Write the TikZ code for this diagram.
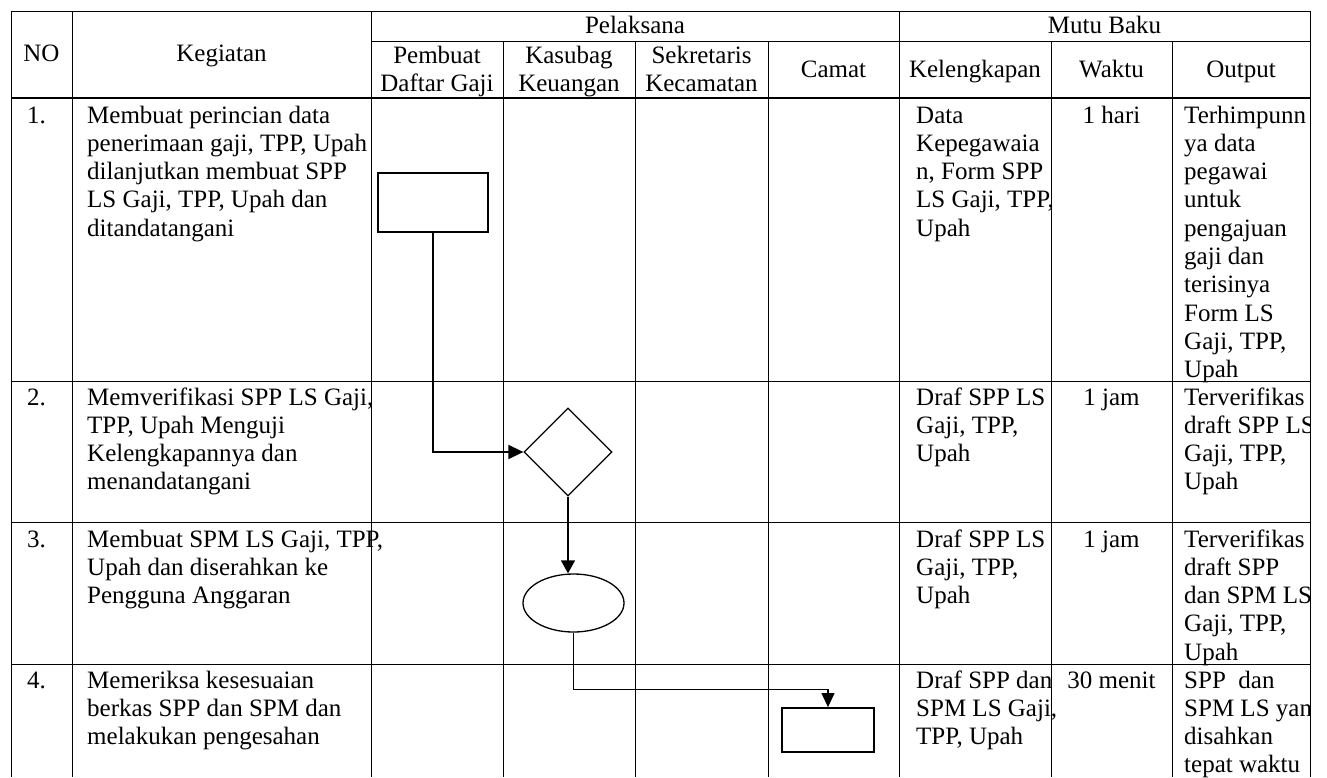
\documentclass[tikz,border=0pt]{standalone}
\usepackage{fontspec}
\setmainfont{Liberation Serif}
\usetikzlibrary{arrows.meta,shapes.geometric}
\newcommand{\kiri}[1]{\begin{tabular}[t]{@{}l@{}}#1\end{tabular}}
\newcommand{\tengah}[1]{\begin{tabular}[t]{@{}c@{}}#1\end{tabular}}

\begin{document}
\begin{tikzpicture}[x=1pt,y=-1pt,font=\fontsize{25}{28.3}\selectfont,
  >={Triangle[length=15pt,width=14pt]},
  grid/.style={line width=1pt},
  hd/.style={anchor=base,inner sep=0},
  txt/.style={anchor=base west,inner sep=0},
  wk/.style={anchor=base,inner sep=0},
  box/.style={draw,line width=1.8pt,inner sep=0},
  flow/.style={line width=1.5pt}]
  \useasboundingbox (0,0) rectangle (1327,777);
  % garis tabel
  \draw[grid] (11,777) -- (11,11) -- (1310,11) -- (1310,777);
  \draw[grid] (371,41) -- (1310,41);
  \draw[line width=1.8pt] (11,98) -- (1310,98);
  \foreach \y in {381,522,664} \draw[grid] (11,\y) -- (1310,\y);
  \foreach \x in {72,371,899} \draw[grid] (\x,11) -- (\x,777);
  \foreach \x in {503,635,768,1051,1172} \draw[grid] (\x,41) -- (\x,777);
  % kepala tabel
  \node[hd] (hno) at (41.5,61) {NO};
  \node[hd] (hkeg) at (221.5,61) {Kegiatan};
  \node[hd] (hpel) at (635,33) {Pelaksana};
  \node[hd] (hmutu) at (1104.5,33) {Mutu Baku};
  \node[hd] (hbuat) at (437,63) {\tengah{Pembuat\\Daftar Gaji}};
  \node[hd] (hkas) at (569,63) {\tengah{Kasubag\\Keuangan}};
  \node[hd] (hsek) at (701.5,63) {\tengah{Sekretaris\\Kecamatan}};
  \node[hd] (hcam) at (833.5,77) {Camat};
  \node[hd] (hkel) at (975,77) {Kelengkapan};
  \node[hd] (hwak) at (1111.5,77) {Waktu};
  \node[hd] (hout) at (1241,77) {Output};
  % baris 1
  \node[txt] (no1) at (27,123) {1.};
  \node[txt] (keg1) at (87,123) {\kiri{Membuat perincian data\\penerimaan gaji, TPP, Upah\\dilanjutkan membuat SPP\\LS Gaji, TPP, Upah dan\\ditandatangani}};
  \node[txt] (kel1) at (916,123) {\kiri{Data\\Kepegawaia\\n, Form SPP\\LS Gaji, TPP,\\Upah}};
  \node[wk] (wak1) at (1111.5,123) {1 hari};
  % baris 2
  \node[txt] (no2) at (27,405) {2.};
  \node[txt] (keg2) at (87,405) {\kiri{Memverifikasi SPP LS Gaji,\\TPP, Upah Menguji\\Kelengkapannya dan\\menandatangani}};
  \node[txt] (kel2) at (916,405) {\kiri{Draf SPP LS\\Gaji, TPP,\\Upah}};
  \node[wk] (wak2) at (1111.5,405) {1 jam};
  % baris 3
  \node[txt] (no3) at (27,547) {3.};
  \node[txt] (keg3) at (87,547) {\kiri{Membuat SPM LS Gaji, TPP,\\Upah dan diserahkan ke\\Pengguna Anggaran}};
  \node[txt] (kel3) at (916,547) {\kiri{Draf SPP LS\\Gaji, TPP,\\Upah}};
  \node[wk] (wak3) at (1111.5,547) {1 jam};
  % baris 4
  \node[txt] (no4) at (27,688) {4.};
  \node[txt] (keg4) at (87,688) {\kiri{Memeriksa kesesuaian\\berkas SPP dan SPM dan\\melakukan pengesahan}};
  \node[txt] (kel4) at (916,688) {\kiri{Draf SPP dan\\SPM LS Gaji,\\TPP, Upah}};
  \node[wk] (wak4) at (1111.5,688) {30 menit};
  % kolom output (terpotong di tepi kanan)
  \begin{scope}
    \clip (1173,98) rectangle (1309.5,777);
    \node[txt] (out1) at (1184,123) {\kiri{Terhimpunn\\ya data\\pegawai\\untuk\\pengajuan\\gaji dan\\terisinya\\Form LS\\Gaji, TPP,\\Upah}};
    \node[txt] (out2) at (1184,405) {\kiri{Terverifikas\\draft SPP LS\\Gaji, TPP,\\Upah}};
    \node[txt] (out3) at (1184,547) {\kiri{Terverifikas\\draft SPP\\dan SPM LS\\Gaji, TPP,\\Upah}};
    \node[txt] (out4) at (1184,688) {\kiri{SPP\ \ dan\\SPM LS yang\\disahkan\\tepat waktu}};
  \end{scope}
  % bagan alir
  \node[box,minimum width=110,minimum height=59] (buat) at (433,202.5) {};
  \node[draw,diamond,aspect=1,minimum size=88,inner sep=0,line width=1.3pt] (verif) at (568,452) {};
  \node[draw,ellipse,minimum width=101,minimum height=58,inner sep=0,line width=1.3pt] (spm) at (573.5,603) {};
  \node[box,minimum width=92,minimum height=44] (sah) at (828,730) {};
  \draw[flow,->] (buat.south) |- (verif.west);
  \draw[flow,->,>={Triangle[length=13pt,width=14pt]}] (verif.south) -- (verif.south |- spm.north);
  \draw[line width=1.2pt,->,>={Triangle[length=14pt,width=13pt]}] (spm.south) -- ++(0,57) -| (sah.north);
\end{tikzpicture}
\end{document}
